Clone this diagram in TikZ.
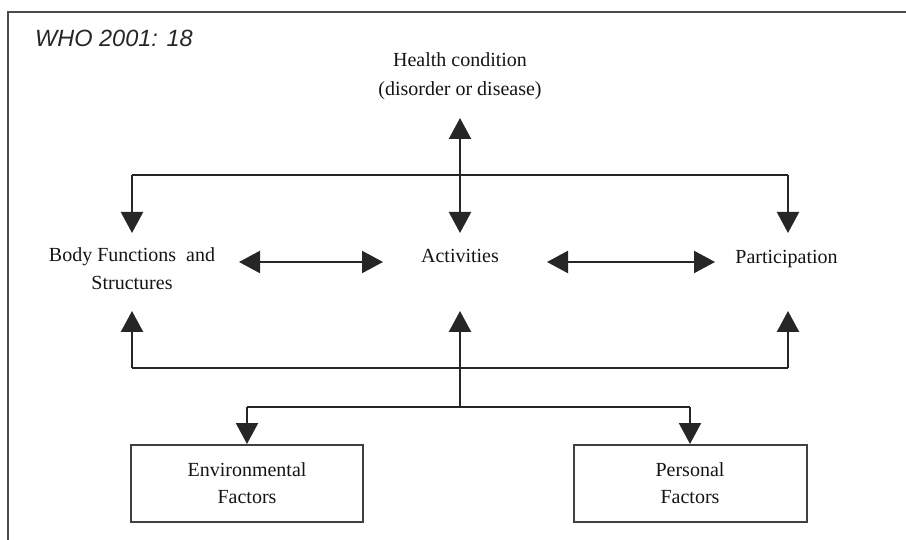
\documentclass[tikz,border=0pt]{standalone}
\usepackage{fontspec}
\setmainfont{Liberation Serif}
\newfontfamily\whofont{Liberation Sans}
\usetikzlibrary{arrows.meta}
\tikzset{
  lbl/.style={inner sep=0pt, align=center, text=black!92, font=\fontsize{20}{28}\selectfont},
  fbox/.style={draw=black!75, line width=2pt, inner sep=0pt, minimum height=77pt, align=center, text=black!92, font=\fontsize{20}{27}\selectfont},
  conn/.style={draw=black!85, line width=2.3pt},
  arr/.style={conn, -{Triangle[width=22pt,length=21pt]}},
  dbl/.style={conn, {Triangle[width=22pt,length=21pt]}-{Triangle[width=22pt,length=21pt]}},
}
\begin{document}
\begin{tikzpicture}[x=1pt,y=-1pt]
\useasboundingbox (0,0) rectangle (906,540);
% frame
\draw[black!70, line width=2pt] (8,541) -- (8,12) -- (907,12);
\node[anchor=base west, inner sep=0pt, text=black!85, font=\whofont\itshape\fontsize{23.5}{28}\selectfont] (who) at (35,46.5) {WHO 2001: 18};
% nodes
\node[lbl, font=\fontsize{20}{29}\selectfont] (health) at (460,75.8) {Health condition\\(disorder or disease)};
\node[lbl] (bf) at (132,268.3) {Body Functions \ and\\Structures};
\node[lbl, anchor=base] (act) at (460,263) {Activities};
\node[lbl, anchor=base] (part) at (786.5,264) {Participation};
\node[fbox, minimum width=232pt] (env) at (247,483.5) {Environmental\\Factors};
\node[fbox, minimum width=233pt] (pers) at (690,483.5) {Personal\\Factors};
% junction coordinates
\coordinate (tl) at (132,175);
\coordinate (tr) at (788,175);
\coordinate (bl) at (132,368);
\coordinate (br) at (788,368);
\coordinate (jb) at (460,407);
\coordinate (el) at (247,407);
\coordinate (pr) at (690,407);
\coordinate (hy) at (0,262);
% health <-> activities
\draw[dbl, shorten <=42.2pt, shorten >=30pt] (health.center) -- (act.base);
% top distribution line
\draw[conn] (tl) -- (tr);
\draw[arr, shorten >=35.3pt] (tl) -- (tl |- bf);
\draw[arr, shorten >=31pt] (tr) -- (tr |- part.base);
% horizontal double arrows
\draw[dbl, shorten <=107pt, shorten >=77pt] (bf |- hy) -- (act.base |- hy);
\draw[dbl, shorten <=87pt, shorten >=71.5pt] (act.base |- hy) -- (part.base |- hy);
% bottom feedback line
\draw[conn] (bl) -- (br);
\draw[arr, shorten >=42.7pt] (bl) -- (bl |- bf);
\draw[arr, shorten >=47pt] (br) -- (br |- part.base);
% central up arrow
\draw[arr, shorten >=48pt] (jb) -- (act.base);
% contextual factors line
\draw[conn] (el) -- (pr);
\draw[arr] (el) -- (env.north);
\draw[arr] (pr) -- (pers.north);
\end{tikzpicture}
\end{document}
